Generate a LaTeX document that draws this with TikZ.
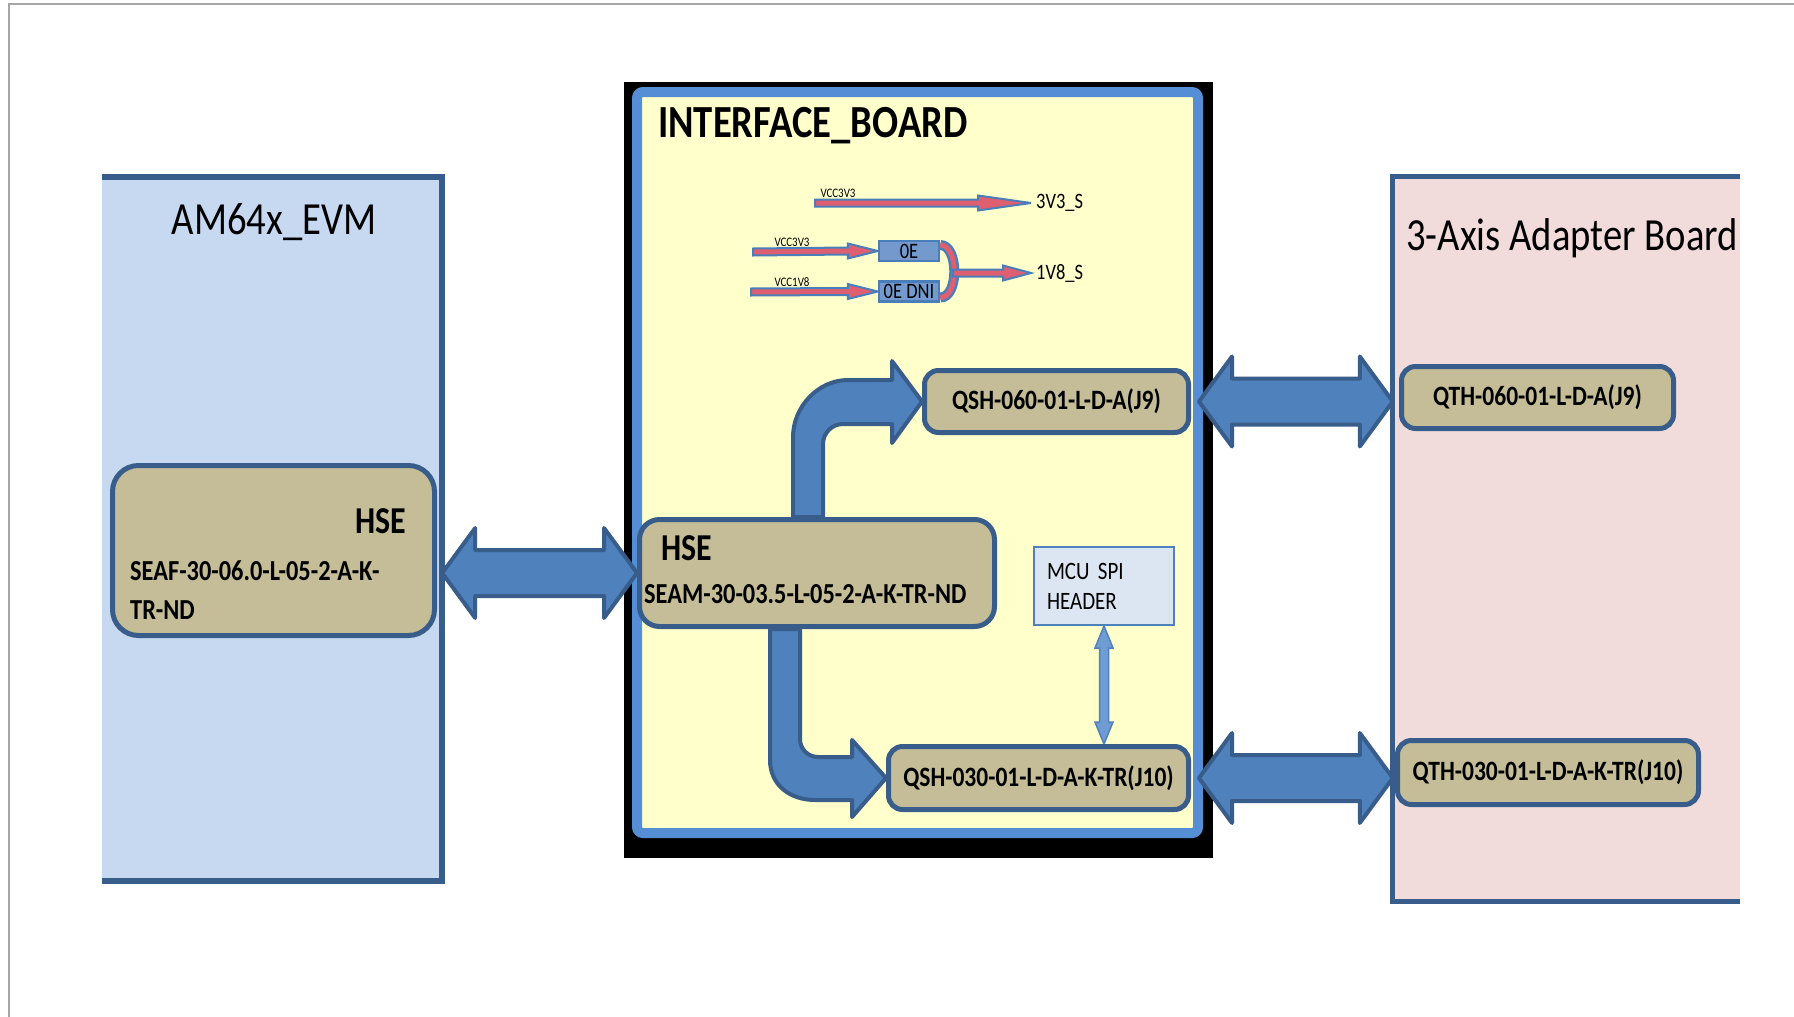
\documentclass[tikz,border=0pt]{standalone}
\usepackage{fontspec}
\setmainfont[FakeStretch=0.84]{Carlito}
\usetikzlibrary{calc}

\definecolor{evmblue}{RGB}{198,217,241}
\definecolor{adppink}{RGB}{242,220,219}
\definecolor{ifyellow}{RGB}{255,255,204}
\definecolor{ifframe}{RGB}{85,142,213}
\definecolor{tanbox}{RGB}{196,189,151}
\definecolor{darkline}{RGB}{56,93,138}
\definecolor{arrfill}{RGB}{79,129,189}
\definecolor{pwrfill}{RGB}{222,96,112}
\definecolor{pwrline}{RGB}{74,126,187}
\definecolor{resfill}{RGB}{115,153,205}
\definecolor{hdrfill}{RGB}{220,230,242}
\definecolor{spifill}{RGB}{112,156,212}
\definecolor{pagegray}{RGB}{166,166,166}

\pgfdeclarelayer{boards}
\pgfdeclarelayer{links}
\pgfsetlayers{boards,links,main}

\begin{document}
\begin{tikzpicture}[x=1pt, y=-1pt]
    \tikzstyle{every node}=[inner sep=0pt, text=black]
    \tikzstyle{title}=[font=\fontsize{46}{50}\selectfont]
    \tikzstyle{brd}=[darkline, line width=6pt]
    \tikzstyle{conn}=[draw=darkline, fill=tanbox, line width=5pt, rounded corners=14pt, font=\fontsize{28}{30}\selectfont\bfseries]
    \tikzstyle{hse}=[conn, rounded corners=26pt]
    \tikzstyle{res}=[draw=pwrline, fill=resfill, line width=2.5pt, minimum width=60pt, minimum height=20pt, font=\fontsize{22}{22}\selectfont]
    \tikzstyle{net}=[font=\fontsize{22}{22}\selectfont, inner sep=5pt, anchor=west]
    \tikzstyle{vcc}=[font=\fontsize{13}{13}\selectfont]
    \tikzstyle{bus}=[draw=darkline, fill=arrfill, line width=4pt, line join=round]
    \tikzset{
        dbl/.style={bus, to path={(\tikztostart) -- ($(\tikztostart)+(33,-45)$) -- ($(\tikztostart)+(33,-23)$)
            -- ($(\tikztotarget)+(-33,-23)$) -- ($(\tikztotarget)+(-33,-45)$) -- (\tikztotarget)
            -- ($(\tikztotarget)+(-33,45)$) -- ($(\tikztotarget)+(-33,23)$)
            -- ($(\tikztostart)+(33,23)$) -- ($(\tikztostart)+(33,45)$) -- cycle}},
        pwr/.style={draw=pwrline, fill=pwrfill, line width=2pt, miter limit=4,
            to path={($(\tikztostart)+(0,-3.5)$) -- ($(\tikztotarget)+(-#1,-3.5)$) -- ($(\tikztotarget)+(-#1,-7.5)$)
            -- (\tikztotarget) -- ($(\tikztotarget)+(-#1,7.5)$) -- ($(\tikztotarget)+(-#1,3.5)$)
            -- ($(\tikztostart)+(0,3.5)$) -- cycle}},
        pwr/.default=30,
        spi/.style={draw=arrfill, fill=spifill, line width=1.5pt,
            to path={(\tikztostart) -- ($(\tikztostart)+(9,22)$) -- ($(\tikztostart)+(4.5,22)$)
            -- ($(\tikztotarget)+(4.5,-22)$) -- ($(\tikztotarget)+(9,-22)$) -- (\tikztotarget)
            -- ($(\tikztotarget)+(-9,-22)$) -- ($(\tikztotarget)+(-4.5,-22)$)
            -- ($(\tikztostart)+(-4.5,22)$) -- ($(\tikztostart)+(-9,22)$) -- cycle}}
    }

    \useasboundingbox (0,0) rectangle (1794,1017);

    % page edge
    \draw[pagegray, line width=1.5pt] (1794,4) -- (9,4) -- (9,1017);

    % the three boards
    \begin{pgfonlayer}{boards}
        \node[fill=evmblue, minimum width=340pt, minimum height=704pt] (evm) at (272,529) {};
        \draw[brd] (evm.north west) -- (evm.north east) -- (evm.south east) -- (evm.south west);
        \node[title] (evmt) at (274,222) {AM64x\_EVM};

        \node[fill=adppink, minimum width=347pt, minimum height=724pt] (adp) at (1566.5,539) {};
        \draw[brd, line width=5pt] (adp.north east) -- (adp.north west) -- (adp.south west) -- (adp.south east);
        \node[title, anchor=base west] (adpt) at (1406,250) {3-Axis Adapter Board};

        \fill[black] (624,82) rectangle (1213,858);
        \node[fill=ifyellow, draw=ifframe, line width=10pt, rounded corners=6pt, minimum width=561pt, minimum height=741pt] (ifb) at (917.5,462.5) {};
        \node[font=\fontsize{46}{50}\selectfont\bfseries, anchor=base west] (ifbt) at (658,137) {INTERFACE\_BOARD};
    \end{pgfonlayer}

    % connectors
    \node[hse, minimum width=322pt, minimum height=170pt] (hseL) at (273.5,550.5) {};
    \node[font=\fontsize{38}{40}\selectfont\bfseries, anchor=base east] (hseLn) at (406,533) {HSE};
    \node[font=\fontsize{29}{39}\selectfont\bfseries, anchor=north west, align=left] (hseLp) at (130,560) {SEAF-30-06.0-L-05-2-A-K-\\TR-ND};

    \node[hse, rounded corners=20pt, minimum width=355pt, minimum height=107pt] (hseM) at (817,573) {};
    \node[font=\fontsize{38}{40}\selectfont\bfseries, anchor=base west] (hseMn) at (661,560) {HSE};
    \node[font=\fontsize{29}{30}\selectfont\bfseries, anchor=base west] (hseMp) at (644,603) {SEAM-30-03.5-L-05-2-A-K-TR-ND};

    \node[conn, minimum width=264pt, minimum height=62pt] (qsh60) at (1056.5,401.5) {QSH-060-01-L-D-A(J9)};
    \node[conn, minimum width=300pt, minimum height=63pt] (qsh30) at (1038.5,778) {QSH-030-01-L-D-A-K-TR(J10)};
    \node[conn, minimum width=272pt, minimum height=62pt] (qth60) at (1537.5,397.5) {QTH-060-01-L-D-A(J9)};
    \node[conn, minimum width=301pt, minimum height=64pt] (qth30) at (1548,772.5) {QTH-030-01-L-D-A-K-TR(J10)};

    \node[draw=arrfill, fill=hdrfill, line width=2pt, minimum width=140pt, minimum height=78pt, text width=114pt, align=left, font=\fontsize{25}{30}\selectfont] (mcu) at (1104,586) {MCU SPI\\HEADER};

    % power nets
    \node[res] (r0) at (909,251) {0E};
    \node[res] (r1) at (909,291.5) {0E DNI};
    \node[net] (s33) at (1031,203) {3V3\_S};
    \node[net] (s18) at (1031,273) {1V8\_S};
    \node[vcc] (l33a) at (838,193) {VCC3V3};
    \node[vcc] (l33b) at (792,242) {VCC3V3};
    \node[vcc] (l18) at (792,282) {VCC1V8};
    \coordinate (v33a) at (815,203);
    \coordinate (v33b) at (753,252);
    \coordinate (v18) at (751,292);
    \coordinate (mrg) at (953,273);

    \draw[pwr=53] (v33a) to (s33.west);
    \draw[pwr] (v33b) to (r0.west);
    \draw[pwr] (v18) to (r1.west);
    \draw[pwr=28] (mrg) to (s18.west);

    % buses
    \coordinate (lnkL) at (evm.east |- hseM.west);
    \coordinate (lnk60) at ([xshift=8pt]qsh60.east);
    \coordinate (lnk30) at ([xshift=8pt]qsh30.east);
    \coordinate (end60) at (adp.west |- lnk60);
    \coordinate (end30) at (adp.west |- lnk30);
    \coordinate (spiend) at (qsh30.north -| mcu.south);
    \begin{pgfonlayer}{links}
        \draw[pwrline, line width=10pt] ($(r0.east)+(0,-6)$) .. controls (959,245) and (959,298) .. ($(r1.east)+(0,6)$);
        \draw[pwrfill, line width=5pt] ($(r0.east)+(0,-6)$) .. controls (959,245) and (959,298) .. ($(r1.east)+(0,6)$);

        \draw[dbl] (lnkL) to (hseM.west);
        \draw[dbl] (lnk60) to (end60);
        \draw[dbl] (lnk30) to (end30);

        \draw[bus] (hseM.north -| 793,0) -- (793,437) .. controls (793,407) and (818,380) .. (848,380)
            -- (892,380) -- (892,361) -- (qsh60.west) -- (892,443) -- (892,424) -- (843,424)
            .. controls (832,424) and (823,433) .. (823,444) -- (hseM.north -| 823,0) -- cycle;
        \draw[bus] (hseM.south -| 770,0) -- (770,760) .. controls (770,785) and (790,800) .. (815,800)
            -- (852,800) -- (852,817) -- (qsh30.west) -- (852,740) -- (852,757) -- (818,757)
            .. controls (808,757) and (800,749) .. (800,739) -- (hseM.south -| 800,0) -- cycle;

        \draw[spi] (mcu.south) to (spiend);
    \end{pgfonlayer}
\end{tikzpicture}
\end{document}
